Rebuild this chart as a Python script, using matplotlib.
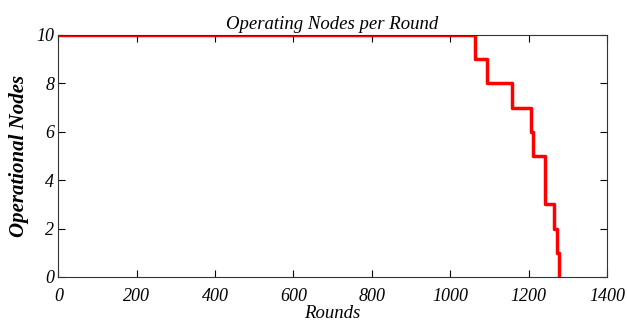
import matplotlib
matplotlib.use("Agg")
import matplotlib.pyplot as plt

# round at which the alive-node count changes, and the count from that round on
rounds = [0, 1064, 1094, 1158, 1206, 1211, 1241, 1266, 1272, 1278]
alive = [10, 9, 8, 7, 6, 5, 3, 2, 1, 0]
x_ticks = [0, 200, 400, 600, 800, 1000, 1200, 1400]
y_ticks = [0, 2, 4, 6, 8, 10]

plt.rcParams['font.family'] = ['Liberation Serif', 'DejaVu Serif']

fig = plt.figure(figsize=(6.27, 3.27), dpi=100)
ax = fig.add_axes([0.093, 0.153, 0.875, 0.740])

ax.step(rounds, alive, where='post', color='red', linewidth=2.5)

ax.set_xlim(0, 1400)
ax.set_ylim(0, 10)
ax.set_xticks(x_ticks)
ax.set_yticks(y_ticks)
ax.set_xticklabels([str(t) for t in x_ticks], fontstyle='italic', fontsize=13)
ax.set_yticklabels([str(t) for t in y_ticks], fontstyle='italic', fontsize=13)
ax.tick_params(direction='in', top=True, right=True, length=5, width=0.8, pad=3)
ax.tick_params(axis='x', pad=8)
for s in ax.spines.values():
    s.set_linewidth(0.8)
    s.set_color('#333333')

ax.set_title('Operating Nodes per Round', fontstyle='italic', fontsize=13.5, pad=4)
ax.set_xlabel('Rounds', fontstyle='italic', fontsize=13.5, labelpad=0)
ax.set_ylabel('Operational Nodes', fontstyle='italic', fontweight='bold', fontsize=15, labelpad=5)

fig.savefig('out.png', dpi=100)
